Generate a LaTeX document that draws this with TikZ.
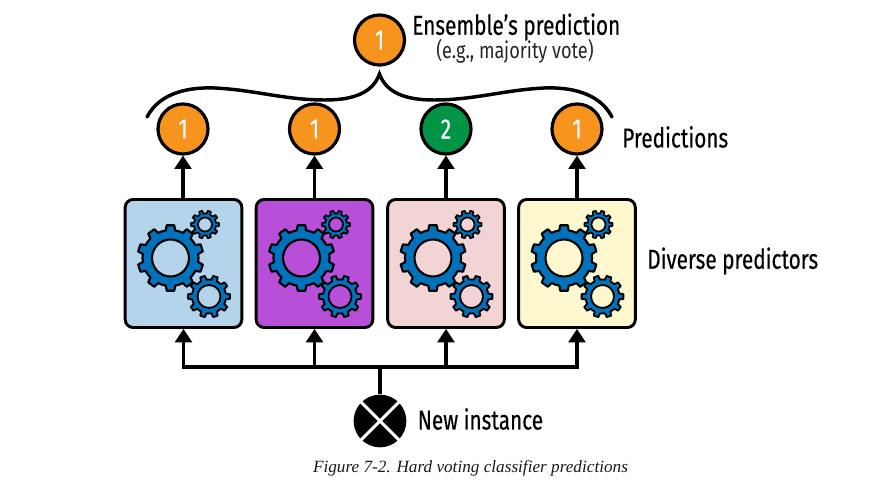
\documentclass[tikz,border=0pt]{standalone}
\usepackage{fontspec}
\setmainfont{Fira Sans}
\newfontfamily\labelfont[FakeStretch=0.76,FakeBold=0.3]{Fira Sans}
\newfontfamily\sublabelfont[FakeStretch=0.80]{Fira Sans}
\newfontfamily\capfont{Liberation Serif}
\usetikzlibrary{arrows.meta}
\definecolor{orangec}{RGB}{247,148,30}
\definecolor{greenc}{RGB}{0,148,68}
\definecolor{gearc}{RGB}{0,114,188}
\definecolor{boxa}{RGB}{179,212,234}
\definecolor{boxb}{RGB}{184,79,216}
\definecolor{boxc}{RGB}{242,212,212}
\definecolor{boxd}{RGB}{255,248,206}
\newcommand{\geardraw}[8]{% cx cy outer root hole teeth rot linewidth
  \draw[black,line width=#8,fill=gearc,even odd rule,line join=round]
   [shift={(#1,#2)},rotate=#7]
   ({-360/#6*0.27}:#4)
   \foreach \k in {1,...,#6}{
     -- ({360/#6*(\k-1)-360/#6*0.18}:#3)
     -- ({360/#6*(\k-1)+360/#6*0.18}:#3)
     -- ({360/#6*(\k-1)+360/#6*0.27}:#4)
     -- ({360/#6*(\k-1)+360/#6*0.5}:#4)
     -- ({360/#6*(\k-1)+360/#6*0.73}:#4)
   } -- cycle
   (0,0) circle[radius=#5];
}
\newcommand{\gearset}[2]{%
  \geardraw{#1+45.5}{#2+59}{33}{28}{18.5}{10}{18}{1.6pt}
  \geardraw{#1+80}{#2+25.5}{14}{11}{7}{10}{0}{1.3pt}
  \geardraw{#1+84}{#2+97.5}{21}{17}{11.5}{10}{0}{1.4pt}
}
\tikzset{
  x=0.75pt,y=-0.75pt,
  vote/.style={circle,draw=black,line width=2.4pt,minimum size=37.5pt,inner sep=0pt,text=white,font=\labelfont\fontsize{21}{22}\selectfont},
  predbox/.style={draw=black,line width=2.2pt,rounded corners=6pt,minimum width=87.5pt,minimum height=96pt,inner sep=0pt},
  conn/.style={line width=2.6pt,-{Triangle[length=10pt,width=12.5pt]}},
  plain/.style={line width=2.6pt},
  lab/.style={font=\labelfont\fontsize{20.5}{22}\selectfont,inner sep=0pt,anchor=west,text=black},
}
\begin{document}
\begin{tikzpicture}
\useasboundingbox (0,0) rectangle (875,481);
\fill[white] (0,0) rectangle (875,481);
% boxes
\node[predbox,fill=boxa] (b1) at (183.5,263.5) {};
\node[predbox,fill=boxb] (b2) at (314.5,263.5) {};
\node[predbox,fill=boxc] (b3) at (446,263.5) {};
\node[predbox,fill=boxd] (b4) at (577,263.5) {};
\gearset{125}{199}
\gearset{256}{199}
\gearset{387.5}{199}
\gearset{518.5}{199}
% votes
\node[vote,fill=orangec] (p1) at (183,129) {1};
\node[vote,fill=orangec] (p2) at (314.5,129) {1};
\node[vote,fill=greenc] (p3) at (446,129) {2};
\node[vote,fill=orangec] (p4) at (577,129) {1};
\node[vote,fill=orangec] (top) at (379.5,40) {1};
% input
\node[circle,fill=black,minimum size=39.5pt,inner sep=0pt] (inst) at (380,421) {};
\draw[white,line width=2.2pt] (inst.45) -- (inst.225) (inst.135) -- (inst.315);
\coordinate (busm) at (inst |- 0,367);
\coordinate (bus1) at (b1 |- busm);
\coordinate (bus2) at (b2 |- busm);
\coordinate (bus3) at (b3 |- busm);
\coordinate (bus4) at (b4 |- busm);
\draw[plain] (inst.north) -- (busm);
\draw[conn,line join=miter] (busm) -- (bus1) -- (b1.south);
\draw[conn] (bus2) -- (b2.south);
\draw[conn] (bus3) -- (b3.south);
\draw[conn,line join=miter] (busm) -- (bus4) -- (b4.south);
\draw[conn] (b1.north -| p1) -- (p1.south);
\draw[conn] (b2.north) -- (p2.south);
\draw[conn] (b3.north) -- (p3.south);
\draw[conn] (b4.north) -- (p4.south);
% brace
\coordinate (brL) at (147,117);
\coordinate (brT) at (379.5,74);
\coordinate (brR) at (612,117);
\draw[line width=2.6pt,line cap=round]
  (brL) .. controls (160,92) and (190,87) .. (215,88)
  .. controls (255,90) and (285,100) .. (325,100)
  .. controls (355,100) and (373,92) .. (brT)
  .. controls (386,92) and (404,100) .. (434,100)
  .. controls (474,100) and (504,90) .. (544,88)
  .. controls (569,87) and (599,92) .. (brR);
% labels
\node[lab] (l1) at (412,27) {Ensemble’s prediction};
\node[font=\sublabelfont\fontsize{17}{18}\selectfont,inner sep=0pt,text=black!85] (l2) at (515,51) {(e.g., majority vote)};
\node[lab] (l3) at (622,137) {Predictions};
\node[lab] (l4) at (647,261) {Diverse predictors};
\node[lab] (l5) at (417.5,419) {New instance};
\node[font=\capfont\itshape\fontsize{12.9}{14}\selectfont,inner sep=0pt,text=black!90] (cap) at (470.5,468) {Figure 7-2. Hard voting classifier predictions};
\end{tikzpicture}
\end{document}
